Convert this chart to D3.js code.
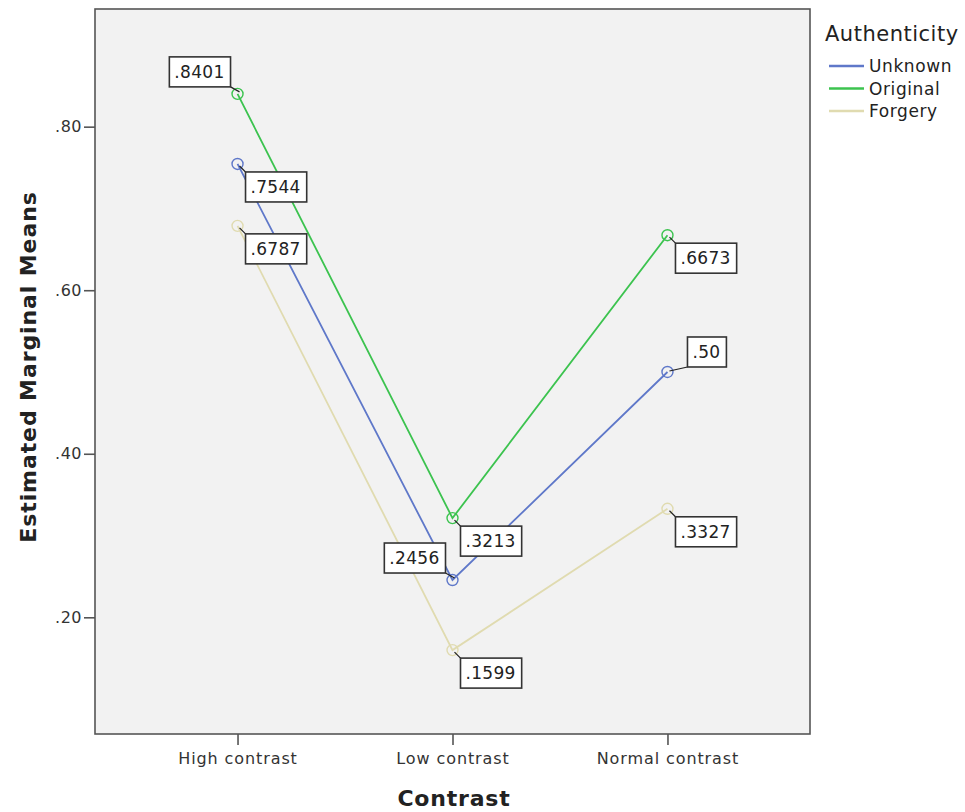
<!DOCTYPE html>
<html><head><meta charset="utf-8">
<script src="https://cdn.jsdelivr.net/npm/d3@7"></script>
<style>body{margin:0;background:#fff;} text{font-family:"DejaVu Sans",sans-serif;}</style>
</head><body>
<svg id="c" width="965" height="812"></svg>
<script>
const categories = ["High contrast", "Low contrast", "Normal contrast"];
const seriesNames = ["Unknown", "Original", "Forgery"];
const unknownValues = [0.7544, 0.2456, 0.50];
const originalValues = [0.8401, 0.3213, 0.6673];
const forgeryValues = [0.6787, 0.1599, 0.3327];
const unknownLabels = [".7544", ".2456", ".50"];
const originalLabels = [".8401", ".3213", ".6673"];
const forgeryLabels = [".6787", ".1599", ".3327"];
const yTicks = [0.2, 0.4, 0.6, 0.8];
const yTickLabels = [".20", ".40", ".60", ".80"];

const colors = {Unknown:"#5f78c9", Original:"#3cc34f", Forgery:"#e0dbb0"};
const series = [
  {name:"Unknown", values:unknownValues, labels:unknownLabels},
  {name:"Original", values:originalValues, labels:originalLabels},
  {name:"Forgery", values:forgeryValues, labels:forgeryLabels}
];
const placement = {
  Unknown:["rb","lt","rt2"],
  Original:["lt","rb","rb"],
  Forgery:["rb","rb","rb"]
};

const L=95, R=810, T=9, B=734;
const svg = d3.select("#c");
const x = d3.scalePoint().domain(categories).range([L,R]).padding(0.663);
const y = d3.scaleLinear().domain([0.0573, 0.9439]).range([B,T]);

svg.append("rect").attr("x",L).attr("y",T).attr("width",R-L).attr("height",B-T)
  .attr("fill","#f2f2f2").attr("stroke","#555").attr("stroke-width",1.6);

const yAxis = d3.axisLeft(y).tickValues(yTicks).tickFormat((d,i)=>yTickLabels[i]).tickSize(11).tickPadding(2);
const gy = svg.append("g").attr("transform",`translate(${L},0)`).call(yAxis);
gy.select(".domain").remove();
gy.selectAll(".tick line").attr("stroke","#555").attr("stroke-width",1.6);
gy.selectAll(".tick text").attr("font-size",16).attr("letter-spacing",0.5).attr("fill","#333");

const xAxis = d3.axisBottom(x).tickSize(11).tickPadding(8);
const gx = svg.append("g").attr("transform",`translate(0,${B})`).call(xAxis);
gx.select(".domain").remove();
gx.selectAll(".tick line").attr("stroke","#555").attr("stroke-width",1.6);
gx.selectAll(".tick text").attr("font-size",16).attr("letter-spacing",0.9).attr("fill","#333");

svg.append("text").attr("x",454).attr("y",806).attr("text-anchor","middle")
  .attr("font-size",22).attr("letter-spacing",0.8).attr("font-weight","bold").attr("fill","#222").text("Contrast");
svg.append("text").attr("transform","translate(36,367) rotate(-90)").attr("text-anchor","middle")
  .attr("font-size",22).attr("letter-spacing",0.9).attr("font-weight","bold").attr("fill","#222").text("Estimated Marginal Means");

const line = d3.line().x((d,i)=>x(categories[i])).y(d=>y(d));
series.forEach(s=>{
  svg.append("path").datum(s.values).attr("d",line).attr("fill","none")
    .attr("stroke",colors[s.name]).attr("stroke-width",1.8);
});
series.forEach(s=>{
  s.values.forEach((v,i)=>{
    svg.append("circle").attr("cx",x(categories[i])).attr("cy",y(v)).attr("r",5.5)
      .attr("fill","none").attr("stroke",colors[s.name]).attr("stroke-width",1.4);
  });
});
series.forEach(s=>{
  s.values.forEach((v,i)=>{
    const px=x(categories[i]), py=y(v);
    const g=svg.append("g");
    const t=g.append("text").attr("font-size",17).attr("letter-spacing",0.3).attr("fill","#222").text(s.labels[i]);
    const w=t.node().getComputedTextLength()+11, h=30;
    const mode=placement[s.name][i];
    let bx,by,cx,cy;
    if(mode==="rb"){bx=px+8;by=py+8;cx=bx;cy=by;}
    else if(mode==="lt"){bx=px-7-w;by=py-7-h;cx=bx+w;cy=by+h;}
    else {bx=px+20;by=py-35;cx=bx;cy=by+h;}
    g.insert("line","text").attr("x1",px+2).attr("y1",py+(mode==="lt"?-2:mode==="rt2"?-1:2)).attr("x2",cx).attr("y2",cy)
      .attr("stroke","#222").attr("stroke-width",1.2);
    g.insert("rect","text").attr("x",bx).attr("y",by).attr("width",w).attr("height",h)
      .attr("fill","#fff").attr("stroke","#333").attr("stroke-width",1.6);
    t.attr("x",bx+5).attr("y",by+21);
  });
});
svg.append("text").attr("x",825).attr("y",41).attr("font-size",21).attr("letter-spacing",0.5).attr("fill","#222").text("Authenticity");
seriesNames.forEach((n,i)=>{
  const yy=66+i*22.5;
  svg.append("line").attr("x1",829).attr("x2",864).attr("y1",yy).attr("y2",yy)
    .attr("stroke",colors[n]).attr("stroke-width",2.5);
  svg.append("text").attr("x",869).attr("y",yy+6).attr("font-size",17).attr("letter-spacing",0.6).attr("fill","#222").text(n);
});
</script>
</body></html>
